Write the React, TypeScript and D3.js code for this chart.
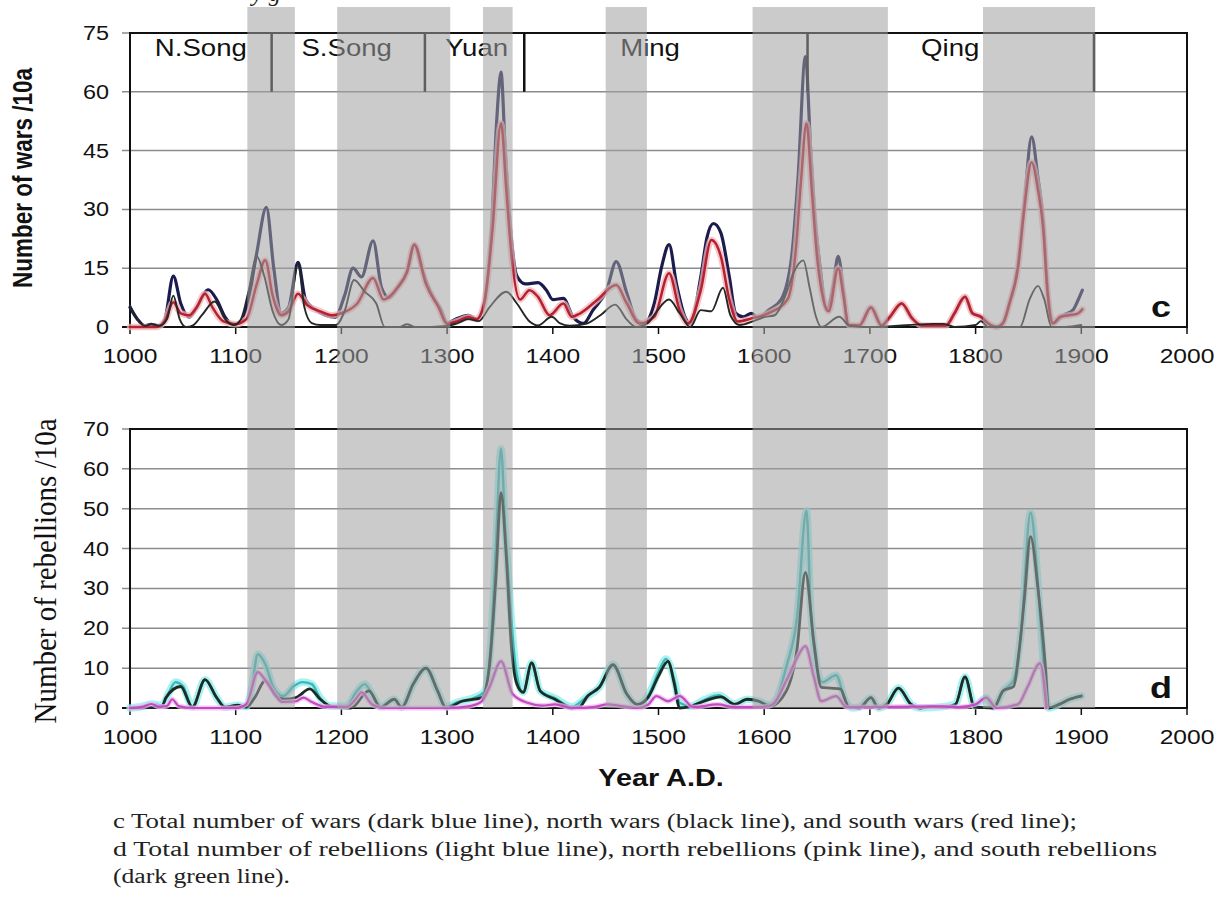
import React from "react";
import * as d3 from "d3";

// gray shaded periods (years)
const bandStart = [1111, 1196, 1334, 1450, 1589, 1807];
const bandEnd = [1156, 1303, 1362, 1489, 1717, 1913];

// dynasties along the top of panel c
const dynasties = ["N.Song", "S.Song", "Yuan", "Ming", "Qing"];
const dynastyLabelYear = [1067, 1205, 1328, 1492, 1776];
const dynastyEnd = [1134, 1279, 1373, 1641, 1912];

const yearTicks = [1000, 1100, 1200, 1300, 1400, 1500, 1600, 1700, 1800, 1900, 2000];
const warTicks = [0, 15, 30, 45, 60, 75];
const rebelTicks = [0, 10, 20, 30, 40, 50, 60, 70];

// c: total wars (dark blue)
const warsTotal: [number, number][] = [
  [1000, 5], [1007, 2], [1014, 0.3], [1020, 0.7], [1027, 0.3], [1033, 2], [1041, 13], [1048, 6],
  [1056, 2.5], [1063, 5], [1074, 9.5], [1082, 7], [1090, 2.5], [1098, 0.6], [1105, 1.5], [1112, 7],
  [1120, 19], [1129, 30.5], [1136, 15], [1143, 3.5], [1150, 5], [1159, 16.5], [1166, 7], [1175, 4.5],
  [1185, 3], [1194, 2.5], [1203, 8], [1211, 15], [1219, 12.8], [1230, 22], [1238, 10], [1245, 7.5],
  [1254, 10.5], [1262, 14], [1269, 21], [1277, 14], [1286, 8], [1294, 4.5], [1300, 1], [1308, 2],
  [1320, 3], [1328, 2], [1335, 6], [1342, 25], [1347, 53], [1351, 65], [1355, 45], [1360, 25],
  [1366, 13], [1374, 11], [1386, 11.3], [1394, 9.4], [1400, 7], [1410, 7.3], [1419, 2.6], [1429, 0.9],
  [1438, 4.3], [1451, 9.4], [1460, 16.7], [1470, 8.6], [1479, 1.9], [1486, 0.9], [1496, 6], [1503, 15.4],
  [1510, 21], [1517, 11], [1525, 2.6], [1530, 0.9], [1540, 12.8], [1546, 23], [1552, 26.4], [1559, 24],
  [1567, 12.8], [1573, 3.5], [1580, 2.6], [1588, 3.5], [1594, 2.2], [1604, 4.3], [1616, 7], [1626, 18],
  [1632, 38], [1639, 69], [1644, 45], [1648, 28], [1653, 15], [1659, 4.3], [1665, 10], [1670, 18],
  [1675, 9], [1679, 0.5], [1690, 0.4], [1701, 5], [1711, 0.4], [1719, 2.6], [1730, 6], [1740, 2.2],
  [1749, 0.4], [1772, 0.4], [1780, 3.5], [1790, 7.7], [1797, 3.5], [1805, 2.6], [1812, 0.9], [1820, 0],
  [1826, 1], [1832, 6], [1840, 15.4], [1846, 31], [1853, 48.5], [1859, 38], [1864, 27], [1868, 10],
  [1873, 0.9], [1883, 3], [1892, 4.3], [1897, 6.9], [1901, 9.4],
];

// c: north wars (black)
const warsNorth: [number, number][] = [
  [1000, 5.5], [1007, 2], [1014, 0.3], [1020, 0.7], [1028, 0.3], [1035, 2], [1041, 8], [1047, 2],
  [1053, 0], [1060, 0.5], [1068, 3], [1080, 6.5], [1090, 2], [1098, 0.5], [1105, 2], [1112, 9],
  [1120, 18], [1127, 13], [1135, 4], [1143, 0.5], [1150, 2], [1159, 16], [1165, 5], [1172, 1],
  [1180, 0.5], [1195, 0.5], [1203, 4], [1212, 12], [1222, 9], [1233, 6], [1241, 0], [1255, 0],
  [1262, 0.7], [1270, 0], [1300, 0.3], [1310, 1], [1320, 2], [1330, 1.5], [1340, 5], [1356, 9],
  [1366, 6], [1378, 1.4], [1386, 0.4], [1399, 2.6], [1407, 0.9], [1416, 0.3], [1432, 0.9], [1445, 3],
  [1459, 5.7], [1470, 1.9], [1479, 0], [1490, 1], [1497, 3.5], [1510, 7], [1520, 3.5], [1530, 0],
  [1540, 4.3], [1550, 4], [1561, 10], [1568, 3], [1577, 0.5], [1590, 1.5], [1600, 2.5], [1610, 3],
  [1620, 8], [1628, 14], [1637, 17], [1643, 10], [1649, 2.6], [1654, 0], [1671, 2.6], [1681, 0.3],
  [1700, 0], [1760, 0.8], [1770, 0.8], [1780, 0], [1800, 0.5], [1805, 1.5], [1812, 0], [1842, 0],
  [1851, 7], [1859, 10.5], [1865, 7], [1872, 0], [1885, 0], [1900, 0.5],
];

// c: south wars (red)
const warsSouth: [number, number][] = [
  [1000, 0], [1025, 0], [1033, 1.5], [1041, 6.3], [1048, 3.5], [1056, 3], [1063, 5], [1071, 8.5],
  [1078, 5], [1088, 1.5], [1100, 0.7], [1110, 2], [1120, 11], [1128, 17], [1135, 8], [1143, 3],
  [1150, 4], [1159, 8.5], [1168, 5.5], [1180, 4], [1191, 3], [1200, 3.5], [1215, 6], [1230, 12.5],
  [1240, 7], [1253, 10], [1262, 14], [1269, 21], [1280, 11], [1292, 5], [1300, 0.8], [1310, 1.5],
  [1320, 2.5], [1328, 2], [1335, 6], [1343, 25], [1351, 52], [1356, 35], [1361, 18], [1369, 7],
  [1378, 9.4], [1386, 7.7], [1397, 3], [1410, 6], [1418, 2.6], [1426, 3.5], [1442, 6.9], [1460, 10.7],
  [1470, 6], [1482, 0.9], [1496, 2.6], [1510, 13.7], [1520, 4.3], [1528, 0.9], [1540, 9.4], [1550, 22.2],
  [1559, 18], [1567, 7], [1575, 1.4], [1588, 2.2], [1604, 3.5], [1622, 7], [1630, 20], [1635, 38],
  [1640, 52], [1645, 35], [1650, 18], [1656, 7], [1661, 4], [1670, 15], [1675, 8], [1680, 0.5],
  [1690, 0.4], [1701, 5], [1711, 0.4], [1719, 2.6], [1730, 6], [1740, 2.2], [1749, 0.4], [1772, 0.4],
  [1780, 3.5], [1790, 7.7], [1797, 3.5], [1805, 2.6], [1812, 0.9], [1820, 0], [1826, 1], [1832, 6],
  [1840, 15], [1846, 30], [1853, 42], [1859, 35], [1864, 25], [1868, 9], [1873, 0.9], [1880, 2.6],
  [1889, 3], [1897, 3.5], [1901, 4.5],
];

// d: total rebellions (light blue)
const rebelTotal: [number, number][] = [
  [1000, 0], [1010, 0.3], [1020, 1], [1030, 0.7], [1037, 4], [1043, 6.5], [1050, 5.5], [1059, 0.3],
  [1071, 7.1], [1082, 2.6], [1090, 0.2], [1102, 0.7], [1110, 0.3], [1115, 5], [1121, 13.5], [1128, 11],
  [1136, 5], [1145, 3], [1155, 5.5], [1163, 6.5], [1172, 6], [1180, 2.5], [1190, 0.5], [1205, 0.5],
  [1214, 4], [1222, 6], [1230, 3], [1237, 0.3], [1250, 2.2], [1257, 0.2], [1268, 6], [1280, 10],
  [1291, 4.3], [1299, 0.3], [1310, 1.5], [1325, 2.5], [1335, 4], [1341, 15], [1346, 40], [1351, 65],
  [1355, 45], [1360, 25], [1365, 10], [1372, 4], [1380, 11.3], [1388, 4.3], [1402, 2.5], [1418, 0.3],
  [1433, 3], [1444, 5.2], [1457, 11], [1470, 3.5], [1480, 0.9], [1490, 3], [1500, 9], [1507, 12.3],
  [1515, 7], [1520, 1.3], [1530, 0.5], [1543, 2], [1557, 3.2], [1572, 1], [1584, 2.2], [1595, 1.7],
  [1605, 0.8], [1612, 2.6], [1621, 10.4], [1631, 22.5], [1640, 49.5], [1644, 25], [1650, 10], [1655, 6.5],
  [1668, 8.2], [1677, 1.7], [1683, 0], [1690, 0.2], [1701, 2.6], [1708, 0], [1716, 0.9], [1727, 5],
  [1739, 0.9], [1748, 0], [1771, 0.4], [1781, 1], [1790, 7.8], [1799, 0.5], [1810, 2.6], [1817, 0.3],
  [1826, 4.3], [1836, 7], [1843, 19], [1852, 49], [1858, 35], [1862, 19], [1869, 0], [1879, 0.9],
  [1889, 2.2], [1900, 3],
];

// d: north rebellions (pink)
const rebelNorth: [number, number][] = [
  [1000, 0], [1012, 0.3], [1020, 1], [1028, 0.3], [1035, 0.5], [1040, 2.2], [1046, 0.5], [1060, 0],
  [1100, 0], [1110, 1], [1121, 9], [1128, 7], [1135, 4.3], [1144, 1.5], [1157, 1.7], [1164, 2.6],
  [1172, 1.5], [1185, 0.3], [1205, 0.3], [1213, 2], [1219, 3.9], [1229, 0.9], [1240, 0], [1300, 0],
  [1320, 0.4], [1332, 1.5], [1340, 5.2], [1351, 11.7], [1362, 3.5], [1376, 1.3], [1390, 0.6], [1402, 0.9],
  [1418, 0], [1440, 0.3], [1452, 0.9], [1462, 0.6], [1480, 0], [1490, 0.8], [1498, 3], [1509, 1.7],
  [1520, 3], [1533, 0.2], [1556, 0.9], [1572, 0.2], [1600, 0.3], [1608, 0.9], [1621, 6.9], [1630, 12],
  [1639, 15.5], [1647, 7.8], [1654, 1.7], [1668, 3], [1678, 0.2], [1768, 0.4], [1784, 0.2], [1800, 0.9],
  [1810, 2.6], [1820, 0], [1840, 0.9], [1849, 5.2], [1861, 11.2], [1867, 0],
];

// d: south rebellions (dark green)
const rebelSouth: [number, number][] = [
  [1000, 0], [1030, 0.3], [1034, 2.6], [1048, 5.4], [1059, 0.2], [1071, 7.1], [1082, 2.6], [1090, 0.2],
  [1102, 0.7], [1110, 0.2], [1118, 2.6], [1128, 6.9], [1138, 3], [1146, 2.2], [1157, 2.6], [1170, 4.8],
  [1180, 2.2], [1190, 0.4], [1209, 0], [1226, 4.3], [1237, 0.2], [1250, 2.2], [1257, 0.2], [1268, 6],
  [1280, 10], [1291, 4.3], [1299, 0], [1314, 1.7], [1333, 2.6], [1340, 10.4], [1346, 32], [1351, 54],
  [1356, 38], [1361, 15], [1366, 6], [1372, 3.9], [1380, 11.3], [1388, 4.3], [1402, 2.2], [1418, 0],
  [1425, 0.2], [1433, 3], [1444, 5.2], [1457, 10.8], [1470, 3.5], [1480, 0.9], [1490, 2.6], [1500, 8],
  [1509, 11.7], [1515, 6], [1520, 0], [1530, 0.4], [1543, 1.7], [1559, 2.8], [1572, 0.9], [1584, 2.2],
  [1595, 1.7], [1605, 0.4], [1621, 4.3], [1631, 14.7], [1639, 34], [1647, 16.5], [1654, 5.2], [1663, 5],
  [1672, 4.8], [1680, 0.2], [1690, 0], [1701, 2.6], [1708, 0], [1716, 0.9], [1727, 5], [1739, 0.9],
  [1748, 0], [1758, 0.4], [1771, 0.2], [1781, 0.9], [1790, 7.8], [1799, 0.2], [1817, 0], [1826, 4.3],
  [1836, 5.4], [1841, 13.8], [1846, 27], [1852, 43], [1859, 30], [1866, 10.4], [1869, 0], [1879, 0.9],
  [1889, 2.2], [1900, 3],
];

const captionLines = [
  "c Total number of wars (dark blue line), north wars (black line), and south wars (red line);",
  "d Total number of rebellions (light blue line), north rebellions (pink line), and south rebellions",
  "(dark green line).",
];
const captionWidths = [964, 1044, 177];

const sans = "'Liberation Sans', Arial, sans-serif";
const serif = "'Liberation Serif', 'Times New Roman', serif";
const SX = 1.2; // the picture is stretched horizontally

const x = d3.scaleLinear().domain([1000, 2000]).range([130, 1187]);
const yWar = d3.scaleLinear().domain([0, 75]).range([327, 33]);
const yReb = d3.scaleLinear().domain([0, 70]).range([708, 429]);

const T = ({ x, y, size, anchor = "middle", weight = "normal", family = sans, fill = "#111", rot = 0, sx = SX, children }: any) => (
  <text
    transform={`translate(${x},${y}) scale(${sx},1)${rot ? ` rotate(${rot})` : ""}`}
    textAnchor={anchor}
    fontSize={size}
    fontWeight={weight}
    fontFamily={family}
    fill={fill}
  >
    {children}
  </text>
);

const Panel = ({ y, ticks, label }: any) => {
  const [y0, y1] = y.range();
  return (
    <g>
      {ticks.map((t: number) => (
        <g key={t}>
          <line x1={122} x2={1187} y1={y(t)} y2={y(t)} stroke={t === 0 ? "#111" : "#8c8c8c"} strokeWidth={t === 0 ? 2 : 1.5} />
          <T x={109} y={y(t) + 7} size={19.5} anchor="end">{t}</T>
        </g>
      ))}
      {yearTicks.map((t) => (
        <g key={t}>
          <line x1={x(t)} x2={x(t)} y1={y0} y2={y0 + 7} stroke="#111" strokeWidth={1.5} />
          <T x={x(t)} y={y0 + 36} size={20.5}>{t}</T>
        </g>
      ))}
      <rect x={130} y={y1} width={1057} height={y0 - y1} fill="none" stroke="#111" strokeWidth={2} />
      <T x={1161} y={y0 - 10} size={30} weight="bold">{label}</T>
    </g>
  );
};

const Series = ({ data, y, color, width, halo, haloWidth }: any) => {
  const line = d3
    .line<[number, number]>()
    .x((d) => x(d[0]))
    .y((d) => y(d[1]))
    .curve(d3.curveMonotoneX);
  const p = line(data) || "";
  return (
    <g fill="none" strokeLinejoin="round" strokeLinecap="round">
      {halo && <path d={p} stroke={halo} strokeWidth={haloWidth} opacity={0.75} />}
      <path d={p} stroke={color} strokeWidth={width} />
    </g>
  );
};

export default function App() {
  return (
    <div style={{ position: "absolute", left: 0, top: 0, background: "#fff" }}>
      <svg width={1220} height={907} style={{ display: "block", background: "#fff" }}>
        {/* cut-off text from the page above */}
        <text x={252} y={1} fontFamily={serif} fontStyle="italic" fontSize={24} fill="#222">y g</text>

        {/* panel c */}
        <Panel y={yWar} ticks={warTicks} label="c" />
        <Series data={warsTotal} y={yWar} color="#1b1b4e" width={3.2} />
        <Series data={warsSouth} y={yWar} color="#b8202e" width={2.5} halo="#f0b4bc" haloWidth={6.5} />
        <Series data={warsNorth} y={yWar} color="#222824" width={1.9} />
        {dynastyEnd.map((d) => (
          <line key={d} x1={x(d)} x2={x(d)} y1={33} y2={yWar(60)} stroke="#111" strokeWidth={2.5} />
        ))}
        {dynasties.map((n, i) => (
          <T key={n} x={x(dynastyLabelYear[i])} y={56} size={23}>{n}</T>
        ))}
        <T x={32} y={178} size={22.5} weight="bold" rot={-90}>Number of wars /10a</T>

        {/* panel d */}
        <Panel y={yReb} ticks={rebelTicks} label="d" />
        <Series data={rebelTotal} y={yReb} color="#3ab8b8" width={2.4} halo="#8eeeee" haloWidth={7.5} />
        <Series data={rebelSouth} y={yReb} color="#1d2b25" width={2.8} />
        <Series data={rebelNorth} y={yReb} color="#c04cc0" width={2.2} halo="#f2b6f2" haloWidth={5} />
        <T x={56} y={571} size={29} family={serif} rot={-90} sx={1.1}>Number of rebellions /10a</T>
        <T x={661} y={786} size={24} weight="bold">Year A.D.</T>

        {/* gray periods laid over both panels */}
        {bandStart.map((s, i) => (
          <rect key={s} x={x(s)} y={7} width={x(bandEnd[i]) - x(s)} height={708 - 7} fill="#a0a0a0" opacity={0.55} />
        ))}

        {/* caption */}
        {captionLines.map((c, i) => (
          <text
            key={i}
            x={113}
            y={828 + i * 27.5}
            fontFamily={serif}
            fontSize={20}
            fill="#222"
            textLength={captionWidths[i]}
            lengthAdjust="spacingAndGlyphs"
          >
            {c}
          </text>
        ))}
      </svg>
    </div>
  );
}
